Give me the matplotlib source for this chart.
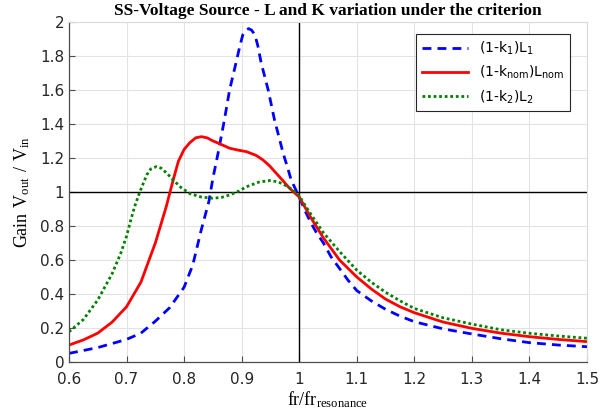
# Grafica de ganancia SS-Voltage Source
import matplotlib
matplotlib.use('Agg')
import matplotlib.pyplot as plt

# Datos: (1-k1)L1
x_l1 = [0.60, 0.65, 0.70, 0.725, 0.75, 0.775, 0.80, 0.815, 0.83, 0.843,
        0.85, 0.859, 0.870, 0.879, 0.890, 0.897, 0.902, 0.907, 0.912,
        0.917, 0.923, 0.928, 0.934, 0.946, 0.957, 0.965, 0.972, 0.980,
        0.986, 0.993, 1.00, 1.01, 1.02, 1.03, 1.042, 1.055, 1.07, 1.085,
        1.10, 1.125, 1.15, 1.175, 1.20, 1.25, 1.30, 1.35, 1.40, 1.45, 1.50]
y_l1 = [0.051, 0.085, 0.133, 0.17, 0.24, 0.32, 0.44, 0.57, 0.78, 0.943,
        1.08, 1.228, 1.424, 1.60, 1.757, 1.86, 1.924, 1.95, 1.96,
        1.952, 1.924, 1.86, 1.757, 1.60, 1.424, 1.32, 1.228, 1.14,
        1.07, 1.02, 0.97, 0.89, 0.82, 0.76, 0.70, 0.62, 0.55, 0.48,
        0.42, 0.36, 0.31, 0.27, 0.237, 0.195, 0.165, 0.137, 0.114, 0.10, 0.09]

# (1-k_nom)L_nom
x_nom = [0.60, 0.625, 0.65, 0.675, 0.70, 0.725, 0.75, 0.769, 0.781, 0.79,
         0.80, 0.81, 0.82, 0.83, 0.84, 0.85, 0.862, 0.879, 0.895, 0.908,
         0.925, 0.937, 0.948, 0.960, 0.972, 0.983, 1.00, 1.02, 1.042, 1.07,
         1.10, 1.125, 1.15, 1.175, 1.20, 1.25, 1.30, 1.35, 1.40, 1.45, 1.50]
y_nom = [0.10, 0.13, 0.17, 0.235, 0.325, 0.47, 0.70, 0.914, 1.07, 1.18,
         1.25, 1.29, 1.318, 1.325, 1.318, 1.30, 1.283, 1.257, 1.245, 1.237,
         1.215, 1.188, 1.155, 1.11, 1.065, 1.022, 0.97, 0.85, 0.73, 0.60,
         0.50, 0.43, 0.37, 0.325, 0.29, 0.235, 0.198, 0.17, 0.149, 0.133, 0.12]

# (1-k2)L2
x_l2 = [0.60, 0.625, 0.65, 0.675, 0.69, 0.70, 0.707, 0.714, 0.723, 0.735,
        0.742, 0.752, 0.760, 0.770, 0.781, 0.795, 0.810, 0.830, 0.850,
        0.865, 0.879, 0.895, 0.908, 0.930, 0.949, 0.962, 0.972, 0.985,
        0.995, 1.00, 1.02, 1.042, 1.07, 1.10, 1.125, 1.15, 1.175, 1.20,
        1.25, 1.30, 1.35, 1.40, 1.45, 1.50]
y_l2 = [0.178, 0.25, 0.365, 0.52, 0.64, 0.74, 0.83, 0.914, 1.0, 1.10,
        1.135, 1.149, 1.14, 1.11, 1.07, 1.025, 0.99, 0.97, 0.963,
        0.968, 0.982, 1.005, 1.03, 1.058, 1.067, 1.06, 1.047, 1.02,
        0.995, 0.975, 0.87, 0.76, 0.65, 0.54, 0.47, 0.41, 0.36, 0.315,
        0.26, 0.223, 0.19, 0.169, 0.153, 0.14]

xticks = [0.6, 0.7, 0.8, 0.9, 1.0, 1.1, 1.2, 1.3, 1.4, 1.5]
xtick_labels = ['0.6', '0.7', '0.8', '0.9', '1', '1.1', '1.2', '1.3', '1.4', '1.5']
yticks = [0, 0.2, 0.4, 0.6, 0.8, 1.0, 1.2, 1.4, 1.6, 1.8, 2.0]
ytick_labels = ['0', '0.2', '0.4', '0.6', '0.8', '1', '1.2', '1.4', '1.6', '1.8', '2']

serif = 'Liberation Serif'

fig = plt.figure(figsize=(6.16, 4.2), dpi=100)
ax = fig.add_axes([0.112, 0.138, 0.841, 0.810])

ax.plot(x_l1, y_l1, color='#0000ff', linestyle=(0, (3.2, 2.2)), linewidth=2,
        label=r'$\mathregular{(1\text{-}k_1)L_1}$')
ax.plot(x_nom, y_nom, color='#ff0000', linewidth=2,
        label=r'$\mathregular{(1\text{-}k_{nom})L_{nom}}$')
ax.plot(x_l2, y_l2, color='#008000', linestyle=(0, (1, 1)), linewidth=2,
        label=r'$\mathregular{(1\text{-}k_2)L_2}$')

# Lineas de referencia en 1
ax.axvline(1.0, color='black', linewidth=1, zorder=1)
ax.axhline(1.0, color='black', linewidth=1, zorder=1)

ax.set_xlim(0.6, 1.5)
ax.set_ylim(0, 2)
ax.set_xticks(xticks)
ax.set_xticklabels(xtick_labels)
ax.set_yticks(yticks)
ax.set_yticklabels(ytick_labels)
ax.grid(True, color='#e3e3e3', linewidth=0.8)
ax.set_axisbelow(True)
ax.tick_params(direction='in', length=4, color='#4d4d4d', labelcolor='#262626',
               labelsize=11, width=0.8)
ax.tick_params(axis='x', pad=7)
for s in ['left', 'bottom']:
    ax.spines[s].set_color('#4d4d4d')
    ax.spines[s].set_linewidth(0.9)
for s in ['top', 'right']:
    ax.spines[s].set_color('#dadada')
    ax.spines[s].set_linewidth(0.8)

ax.set_title('SS-Voltage Source - L and K variation under the criterion',
             family=serif, fontweight='bold', fontsize=12.5, pad=5)
ax.set_xlabel(r'$\mathregular{fr/fr_{resonance}}$', family=serif, fontsize=13,
              labelpad=2)
ax.set_ylabel(r'$\mathregular{Gain\ V_{out}\ /\ V_{in}}$', family=serif,
              fontsize=13, labelpad=6)

leg = ax.legend(loc='upper right', bbox_to_anchor=(0.98, 0.985), fontsize=10,
                handlelength=3.3, framealpha=1, fancybox=False,
                edgecolor='#262626', borderpad=0.4, labelspacing=0.5)
leg.get_frame().set_linewidth(0.8)

fig.savefig('out.png', dpi=100)
